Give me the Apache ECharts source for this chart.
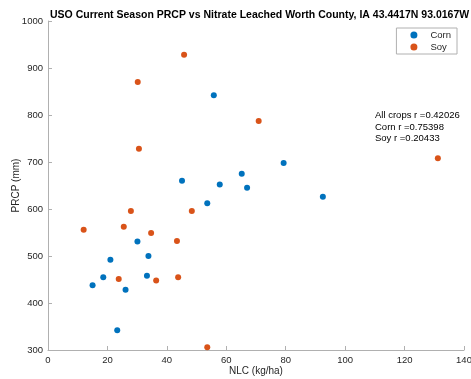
<!DOCTYPE html>
<html>
<head>
<meta charset="utf-8">
<script src="https://cdn.jsdelivr.net/npm/echarts@6/dist/echarts.min.js"></script>
<style>
  html, body { margin: 0; padding: 0; background: #fff; }
  #chart { width: 471px; height: 379px; }
</style>
</head>
<body>
<div id="chart"></div>
<script>
// Nitrate leached (kg/ha) vs current-season precipitation (mm)
const cornNLC  = [45.1, 55.8, 79.3, 65.2, 57.8, 67.0, 30.1, 21.0, 33.8, 18.6, 15.0, 33.3, 26.1, 23.3, 53.6, 92.5];
const cornPRCP = [660, 842, 698, 675, 652, 645, 531, 492, 500, 455, 438, 458, 428, 342, 612, 626];
const soyNLC   = [45.8, 30.2, 30.6, 70.9, 27.9, 48.4, 12.0, 25.5, 34.7, 43.4, 23.8, 36.4, 43.8, 53.6, 131.2];
const soyPRCP  = [928, 870, 728, 787, 596, 596, 556, 562, 549, 532, 451, 448, 455, 306, 708];
const statLines = ['All crops r =0.42026', 'Corn r =0.75398', 'Soy r =0.20433'];

const font = 'Liberation Sans, Arial, Helvetica, sans-serif';
const axisGray = '#b0b0b0';
const textDark = '#262626';

const pairs = (xs, ys) => xs.map((x, i) => [x, ys[i]]);

const chart = echarts.init(document.getElementById('chart'), null, { renderer: 'canvas' });
chart.setOption({
  animation: false,
  backgroundColor: '#fff',
  textStyle: { fontFamily: font },
  title: {
    text: 'USO Current Season PRCP vs Nitrate Leached Worth County, IA 43.4417N 93.0167W',
    left: 45, top: 5,
    textStyle: { fontSize: 10.5, fontWeight: 'bold', color: '#000', fontFamily: font }
  },
  grid: { left: 48, right: 7, top: 21, bottom: 29, containLabel: false, outerBoundsMode: 'none' },
  legend: {
    right: 14, top: 28, orient: 'vertical',
    itemWidth: 7, itemHeight: 7, itemGap: 2,
    padding: [2, 6, 2, 14],
    borderColor: '#b0b0b0', borderWidth: 1,
    textStyle: { fontSize: 9.5, color: textDark, fontFamily: font, padding: [0, 0, 0, 8] },
    data: [{ name: 'Corn', icon: 'circle' }, { name: 'Soy', icon: 'circle' }]
  },
  xAxis: {
    type: 'value', min: 0, max: 140, interval: 20,
    name: 'NLC (kg/ha)', nameLocation: 'middle', nameGap: 16, nameMoveOverlap: false,
    nameTextStyle: { fontSize: 10, color: textDark, fontFamily: font },
    axisLine: { lineStyle: { color: axisGray, width: 1 } },
    axisTick: { inside: true, length: 4, lineStyle: { color: axisGray } },
    axisLabel: { fontSize: 9.5, color: textDark, margin: 5 },
    splitLine: { show: false }
  },
  yAxis: {
    type: 'value', min: 300, max: 1000, interval: 100,
    name: 'PRCP (mm)', nameLocation: 'middle', nameGap: 27, nameMoveOverlap: false,
    nameTextStyle: { fontSize: 10, color: textDark, fontFamily: font },
    axisLine: { show: true, lineStyle: { color: axisGray, width: 1 } },
    axisTick: { show: true, inside: true, length: 4, lineStyle: { color: axisGray } },
    axisLabel: { fontSize: 9.5, color: textDark, margin: 5, formatter: v => String(v) },
    splitLine: { show: false }
  },
  graphic: [{
    type: 'text', left: 375, top: 110,
    style: {
      text: statLines.join('\n'),
      fontSize: 9.5, lineHeight: 11.5, fill: '#000', fontFamily: font
    }
  }],
  series: [
    {
      name: 'Corn', type: 'scatter', symbol: 'circle', symbolSize: 6,
      itemStyle: { color: '#0072BD', opacity: 1 },
      data: pairs(cornNLC, cornPRCP)
    },
    {
      name: 'Soy', type: 'scatter', symbol: 'circle', symbolSize: 6,
      itemStyle: { color: '#D95319', opacity: 1 },
      data: pairs(soyNLC, soyPRCP)
    }
  ]
});
</script>
</body>
</html>
